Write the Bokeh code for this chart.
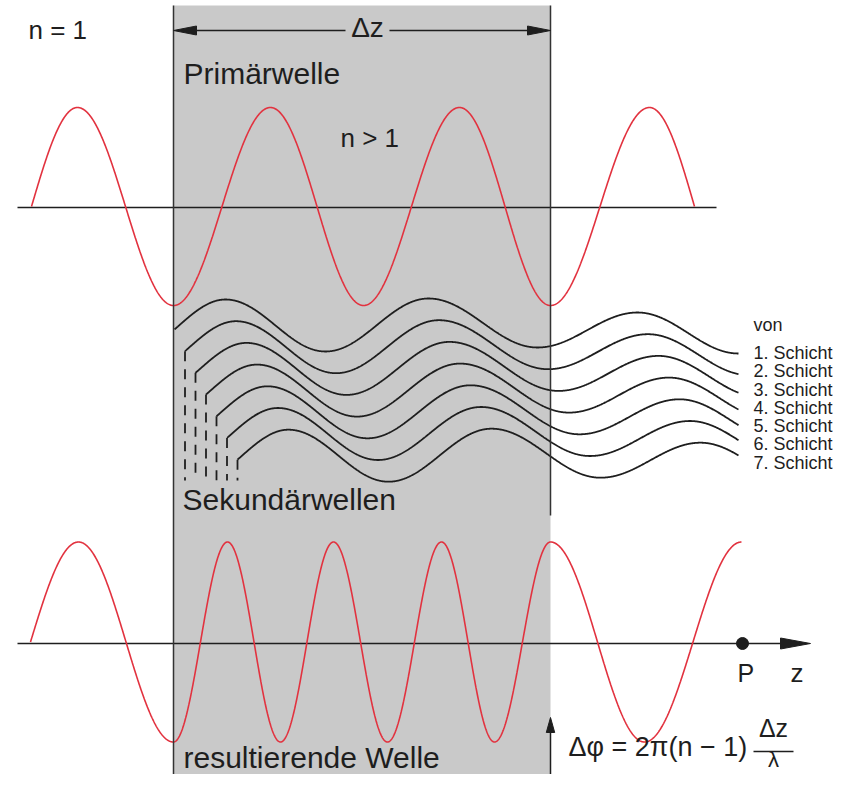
import numpy as np
from bokeh.plotting import figure
from bokeh.models import Range1d
from bokeh.core.properties import value
from bokeh.embed import file_html
from bokeh.resources import INLINE

FONT = "Liberation Sans"
RED = "#e2323f"
INK = "#1e1e1e"
GRAY = "#c9c9c9"

W, H = 836, 774

# ---------------- data (picture coordinates, y grows downward) ----------------
# medium with n > 1
medium_x = [173, 550]
medium_y = [5, 776]

# Primärwelle: positions of the extrema, their sign, visible span
prim_ext_x = [-15, 77, 173, 270, 363, 459, 550, 649, 739]
prim_ext_s = [-1, 1, -1, 1, -1, 1, -1, 1, -1]
prim_span = [31, 694]
prim_center = 206
prim_amp = 99
prim_axis = [17, 716, 207]          # x0, x1, y

# resultierende Welle
res_ext_x = [-18, 78, 173, 227, 280, 333, 387, 441, 494, 550, 644, 741]
res_ext_s = [-1, 1, -1, 1, -1, 1, -1, 1, -1, 1, -1, 1]
res_span = [30, 741]
res_center = 641.5
res_amp = 100
res_axis = [17, 810, 643]           # x0, arrow tip, y
point_P = [742, 643]

# Sekundärwellen (layer 1), other layers shifted by (dx, dy)
sek_ext_x = [132, 225, 325, 428, 537, 637, 738, 840]
sek_ext_y = [351, 299, 351, 298, 347, 312, 353, 312]
sek_start_x = 174
sek_end_x = 738
sek_dx = 10.5
sek_dy = 21.7
sek_dash_end = 480
layer_labels = ["1. Schicht", "2. Schicht", "3. Schicht", "4. Schicht",
                "5. Schicht", "6. Schicht", "7. Schicht"]
layer_label_x = 753
layer_label_y0 = 360
layer_label_step = 18.3

# Δz dimension arrow
dz_y = 30
dz_gap = [345, 389]

# baseline correction observed for the svg text layout (fraction of font size)
BASE_SHIFT = 0.42


def cos_interp(xs, kx, ky):
    kx = np.asarray(kx, float)
    ky = np.asarray(ky, float)
    i = np.clip(np.searchsorted(kx, xs) - 1, 0, len(kx) - 2)
    t = (xs - kx[i]) / (kx[i + 1] - kx[i])
    w = (1 - np.cos(np.pi * t)) / 2
    return ky[i] + (ky[i + 1] - ky[i]) * w


def tri(tip_x, tip_y, dx, dy, length, half):
    bx, by = tip_x - dx * length, tip_y - dy * length
    nx, ny = -dy * half, dx * half
    return [tip_x, bx + nx, bx - nx], [tip_y, by + ny, by - ny]


p = figure(width=W, height=H, x_range=Range1d(0, W), y_range=Range1d(H, 0),
           output_backend="svg", toolbar_location=None,
           x_axis_type=None, y_axis_type=None, min_border=0)
p.outline_line_color = None
p.background_fill_color = "white"
p.border_fill_color = "white"

# medium
p.quad(left=medium_x[0], right=medium_x[1], top=medium_y[0], bottom=medium_y[1],
       fill_color=GRAY, line_color=None)

# axes
p.line([prim_axis[0], prim_axis[1]], [prim_axis[2]] * 2, line_color=INK, line_width=1.4)
res_head = 30
p.line([res_axis[0], res_axis[1] - res_head + 2], [res_axis[2]] * 2, line_color=INK, line_width=1.4)
hx, hy = tri(res_axis[1], res_axis[2], 1, 0, res_head, 5.5)
p.patch(hx, hy, fill_color=INK, line_color=INK, line_width=1)
p.scatter([point_P[0]], [point_P[1]], size=12, color=INK)

# red waves
xs = np.linspace(prim_span[0], prim_span[1], 1400)
ky = [prim_center - prim_amp * s for s in prim_ext_s]
p.line(xs, cos_interp(xs, prim_ext_x, ky), line_color=RED, line_width=1.6)

xs = np.linspace(res_span[0], res_span[1], 1600)
ky = [res_center - res_amp * s for s in res_ext_s]
p.line(xs, cos_interp(xs, res_ext_x, ky), line_color=RED, line_width=1.6)

# secondary waves
for k in range(len(layer_labels)):
    x0 = sek_start_x + k * sek_dx
    xs = np.linspace(x0, sek_end_x, 1200)
    kx = [v + k * sek_dx for v in sek_ext_x]
    kyy = [v + k * sek_dy for v in sek_ext_y]
    ys = cos_interp(xs, kx, kyy)
    p.line(xs, ys, line_color=INK, line_width=1.8)
    if k > 0:
        p.line([x0, x0], [ys[0], sek_dash_end], line_color=INK, line_width=1.8,
               line_dash="10 8")

# borders of the medium
p.line([medium_x[0]] * 2, [medium_y[0], medium_y[1]], line_color="#333333", line_width=1.5)
p.line([medium_x[1]] * 2, [medium_y[0], 515], line_color="#333333", line_width=1.5)

# upward arrow at the exit
ax, ay = tri(medium_x[1], 717, 0, -1, 15, 4.2)
p.patch(ax, ay, fill_color=INK, line_color=INK, line_width=1)
p.line([medium_x[1]] * 2, [729, medium_y[1]], line_color=INK, line_width=1.5)

# Δz arrow
dz_head = 23
p.line([medium_x[0] + dz_head - 2, dz_gap[0]], [dz_y] * 2, line_color=INK, line_width=1.4)
p.line([dz_gap[1], medium_x[1] - dz_head + 2], [dz_y] * 2, line_color=INK, line_width=1.4)
lx, ly = tri(medium_x[0], dz_y, -1, 0, dz_head, 4.5)
rx, ry = tri(medium_x[1], dz_y, 1, 0, dz_head, 4.5)
p.patch(lx, ly, fill_color=INK, line_color=INK, line_width=1)
p.patch(rx, ry, fill_color=INK, line_color=INK, line_width=1)


def label(x, y, txt, size, align="left"):
    px = float(size.replace("px", ""))
    p.text([x], [y - BASE_SHIFT * px], text=[txt], text_font=value(FONT),
           text_font_size=size, text_baseline="alphabetic", text_align=align,
           text_color=INK)


label(28, 40, "n = 1", "26px")
label(367, 39, "Δz", "28px", "center")
label(183, 86, "Primärwelle", "30px")
label(340, 148, "n > 1", "26px")
label(182, 512, "Sekundärwellen", "30px")
label(183, 770, "resultierende Welle", "30px")
label(layer_label_x, 332, "von", "18px")
p.text([layer_label_x] * len(layer_labels),
       [layer_label_y0 - BASE_SHIFT * 18 + i * layer_label_step for i in range(len(layer_labels))],
       text=layer_labels, text_font=value(FONT), text_font_size="18px",
       text_baseline="alphabetic", text_align="left", text_color=INK)
label(737, 683, "P", "25px")
label(790, 683, "z", "26px")
# formula (kept slightly higher so that λ stays inside the 774 px plot)
label(568, 758, "Δφ = 2π(n − 1)", "27px")
label(773, 738, "Δz", "25px", "center")
p.line([753, 793], [751, 751], line_color=INK, line_width=1.4)
label(773, 768, "λ", "22px", "center")

open("out.html", "w").write(file_html(p, INLINE))
